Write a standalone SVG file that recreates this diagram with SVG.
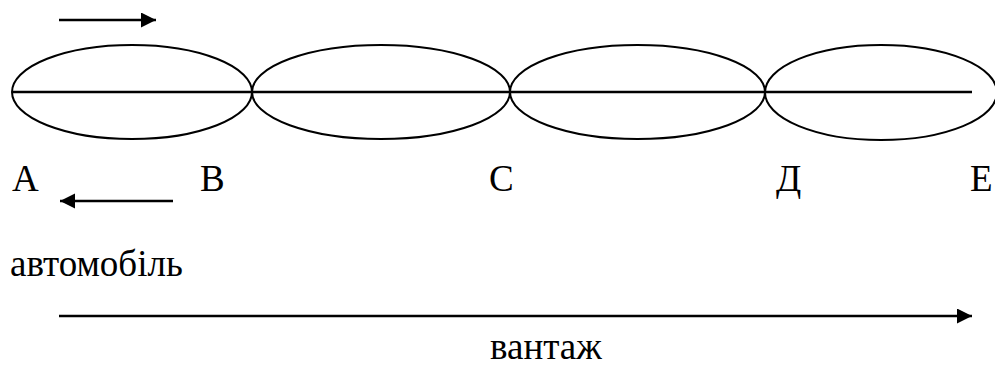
<svg xmlns="http://www.w3.org/2000/svg" width="995" height="368" viewBox="0 0 995 368">
<style>
.o{fill:none;stroke:#000;stroke-width:2}
.l{stroke:#000;stroke-width:2.5;fill:none}
.t{font-family:"Liberation Serif","Times New Roman",serif;font-size:37px;fill:#000}
</style>
<defs>
<marker id="ah" markerUnits="userSpaceOnUse" markerWidth="16" markerHeight="16" refX="15" refY="7.5" orient="auto">
<path d="M0,0 L15,7.5 L0,15 Z" fill="#000"/>
</marker>
</defs>
<rect width="995" height="368" fill="#fff"/>
<g id="ellipse1"><ellipse class="o" cx="132" cy="92" rx="120" ry="47"/></g>
<g id="ellipse2"><ellipse class="o" cx="381" cy="92" rx="129" ry="47"/></g>
<g id="ellipse3"><ellipse class="o" cx="637.5" cy="92" rx="127.5" ry="47"/></g>
<g id="ellipse4"><ellipse class="o" cx="881" cy="92.5" rx="116" ry="47.5"/></g>
<g id="connectors">
<line class="l" x1="12" y1="92" x2="972" y2="92"/>
<line class="l" x1="59" y1="20" x2="156" y2="20" marker-end="url(#ah)"/>
<line class="l" x1="173" y1="201" x2="60" y2="201" marker-end="url(#ah)"/>
<line class="l" x1="59" y1="316" x2="972" y2="316" marker-end="url(#ah)"/>
</g>
<g id="labels">
<text class="t" x="12" y="191">A</text>
<text class="t" x="200" y="191">B</text>
<text class="t" x="489" y="191">C</text>
<text class="t" x="776" y="191">Д</text>
<text class="t" x="970" y="191">E</text>
<text class="t" x="10" y="276">автомобіль</text>
<text class="t" x="490" y="359">вантаж</text>
</g>
</svg>
